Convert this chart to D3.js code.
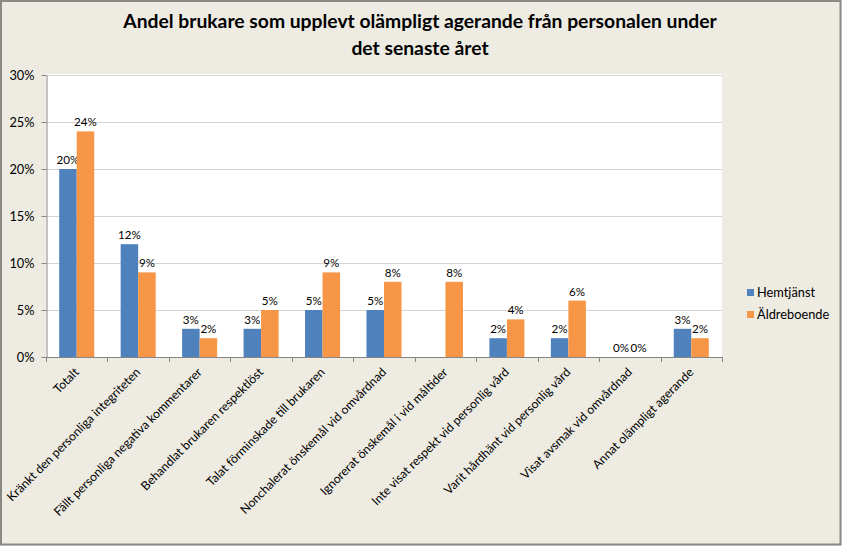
<!DOCTYPE html>
<html><head><meta charset="utf-8">
<script src="https://cdn.jsdelivr.net/npm/d3@7"></script>
<style>
html,body{margin:0;padding:0;background:#EDEBE2;}
svg{display:block;}
text{font-family:Lato,"Open Sans",sans-serif;fill:#000;}
</style></head>
<body>
<script>
const titleLines = ["Andel brukare som upplevt olämpligt agerande från personalen under", "det senaste året"];
const categories = ["Totalt","Kränkt den personliga integriteten","Fällt personliga negativa kommentarer","Behandlat brukaren respektlöst","Talat förminskade till brukaren","Nonchalerat önskemål vid omvårdnad","Ignorerat önskemål i vid måltider","Inte visat respekt vid personlig vård","Varit hårdhänt vid personlig vård","Visat avsmak vid omvårdnad","Annat olämpligt agerande"];
const seriesNames = ["Hemtjänst","Äldreboende"];
const hemtjanst = [20,12,3,3,5,5,null,2,2,0,3];
const aldreboende = [24,9,2,5,9,8,8,4,6,0,2];
const yTicks = [0,5,10,15,20,25,30];
const colors = ["#4F81BD","#F79646"];

const W=842,H=546;
const plot={l:46,r:722,t:75,b:357};
const svg=d3.select("body").append("svg").attr("width",W).attr("height",H);
svg.append("rect").attr("x",1).attr("y",1).attr("width",W-2.5).attr("height",H-2.5)
  .attr("fill","#EDEBE2").attr("stroke","#8A8A85").attr("stroke-width",2);
svg.append("rect").attr("x",plot.l).attr("y",plot.t-1).attr("width",plot.r-plot.l).attr("height",plot.b-plot.t+1).attr("fill","#fff");

// title
const tg=svg.append("g");
titleLines.forEach((t,i)=>{
  tg.append("text").attr("x",420).attr("y",28+i*27).attr("text-anchor","middle")
   .attr("font-weight","bold").attr("font-size",18).text(t);
});
const t0=tg.select("text").node();
const len=t0.getComputedTextLength();
const fs=18*594/len;
tg.selectAll("text").attr("font-size",fs);

const x0=d3.scaleBand().domain(categories).range([plot.l,plot.r]).paddingInner(0.43).paddingOuter(0.215);
const x1=d3.scaleBand().domain(seriesNames).range([0,x0.bandwidth()]);
const y=d3.scaleLinear().domain([0,30]).range([plot.b,plot.t]);

// gridlines
svg.append("g").selectAll("line").data(yTicks.filter(d=>d>0)).join("line")
 .attr("x1",plot.l).attr("x2",plot.r).attr("y1",d=>Math.round(y(d))+0.5).attr("y2",d=>Math.round(y(d))+0.5)
 .attr("stroke","#D4D4D4");

// y axis
const ya=svg.append("g").attr("transform",`translate(${plot.l+0.5},0)`)
 .call(d3.axisLeft(y).tickValues(yTicks).tickFormat(d=>d+"%").tickSize(5).tickSizeOuter(0));
ya.select(".domain").attr("stroke","#868686");
ya.selectAll(".tick line").attr("stroke","#868686");
ya.selectAll(".tick text").attr("font-size",12.8).attr("font-family","Lato").attr("x",-12).attr("fill","#000");

// bars
const data=categories.map((c,i)=>({c,vals:[hemtjanst[i],aldreboende[i]]}));
const g=svg.append("g");
data.forEach(d=>{
  d.vals.forEach((v,j)=>{
    if(v===null) return;
    const bx=x0(d.c)+x1(seriesNames[j]);
    if(v>0) g.append("rect").attr("x",bx).attr("y",y(v)).attr("width",x1.bandwidth()).attr("height",y(0)-y(v)).attr("fill",colors[j]);
    g.append("text").attr("x",bx+x1.bandwidth()/2).attr("y",y(v)-5).attr("text-anchor","middle")
     .attr("font-size",11.6).text(v+"%");
  });
});

// x axis
const xa=svg.append("g");
xa.append("line").attr("x1",plot.l).attr("x2",plot.r).attr("y1",plot.b+0.5).attr("y2",plot.b+0.5).attr("stroke","#868686");
const step=x0.step();
d3.range(categories.length+1).forEach(i=>{
  const tx=Math.round(plot.l+i*step)+0.5;
  xa.append("line").attr("x1",tx).attr("x2",tx).attr("y1",plot.b).attr("y2",plot.b+5).attr("stroke","#868686");
});
categories.forEach(c=>{
  const cx=x0(c)+x0.bandwidth()/2+3, cy=plot.b+16;
  xa.append("text").attr("transform",`translate(${cx},${cy}) rotate(-45)`).attr("text-anchor","end")
   .attr("font-size",12.2).text(c);
});

// legend
const lg=svg.append("g");
seriesNames.forEach((s,i)=>{
  lg.append("rect").attr("x",747).attr("y",289+i*22).attr("width",7).attr("height",7).attr("fill",colors[i]);
  lg.append("text").attr("x",757).attr("y",293+i*22).attr("dy","0.35em").attr("font-size",12.8).text(s);
});
</script>
</body></html>
